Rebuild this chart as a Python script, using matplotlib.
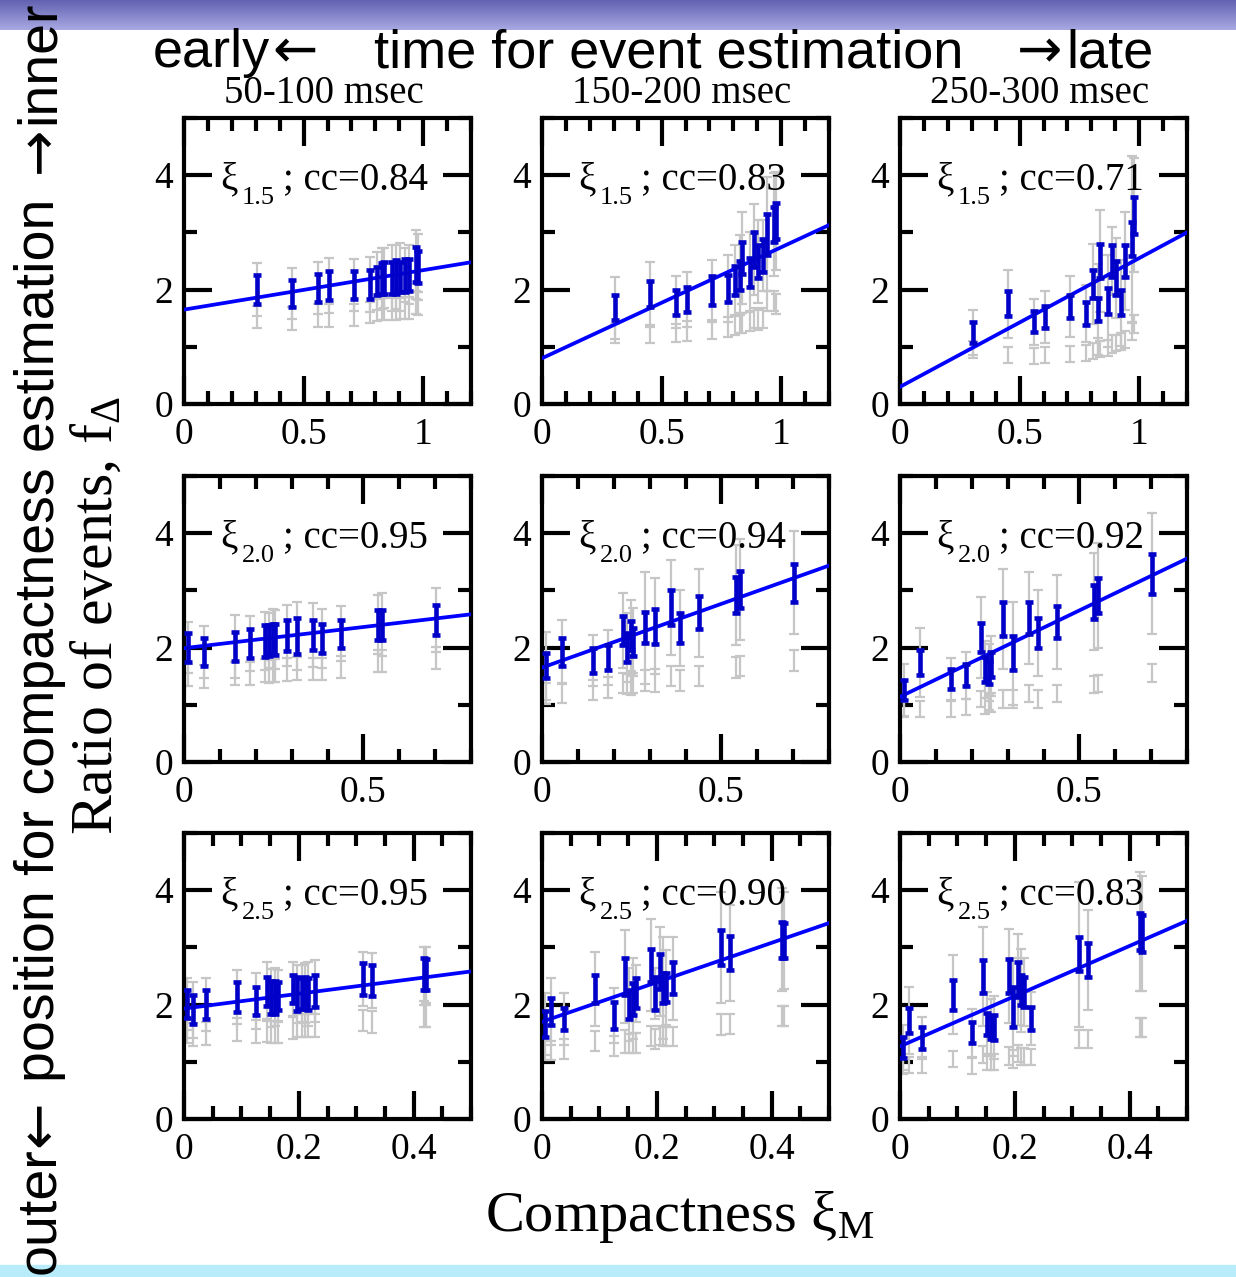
import numpy as np
import matplotlib
matplotlib.use("Agg")
import matplotlib.pyplot as plt
from matplotlib.ticker import MultipleLocator, FuncFormatter
from matplotlib.colors import LinearSegmentedColormap
from matplotlib.patches import Rectangle

plt.rcParams['font.family'] = ['Liberation Serif', 'DejaVu Serif']
plt.rcParams['mathtext.fontset'] = 'custom'
plt.rcParams['mathtext.rm'] = 'Liberation Serif'
plt.rcParams['mathtext.it'] = 'Liberation Serif:italic'
plt.rcParams['mathtext.bf'] = 'Liberation Serif:bold'

# compactness of the models (same within a row)
x_row1 = [0.305, 0.453, 0.562, 0.606, 0.709, 0.779, 0.809, 0.827, 0.836, 0.870, 0.886, 0.905, 0.925, 0.942, 0.968, 0.980]
x_row2 = [0.011, 0.057, 0.141, 0.184, 0.225, 0.237, 0.248, 0.254, 0.286, 0.315, 0.360, 0.384, 0.439, 0.541, 0.552, 0.702]
x_row3 = [0.006, 0.016, 0.039, 0.092, 0.125, 0.145, 0.151, 0.158, 0.163, 0.190, 0.196, 0.205, 0.210, 0.216, 0.228, 0.312, 0.328, 0.418, 0.422]

# xi_1.5 , 50-100 msec
p1_y = [2.00, 1.93, 2.03, 2.07, 2.08, 2.09, 2.15, 2.19, 2.20, 2.20, 2.22, 2.22, 2.25, 2.26, 2.44, 2.40]
p1_err = [0.25, 0.24, 0.25, 0.25, 0.25, 0.25, 0.25, 0.27, 0.28, 0.28, 0.30, 0.26, 0.29, 0.28, 0.30, 0.28]
p1_gerr = [0.47, 0.44, 0.45, 0.48, 0.46, 0.48, 0.51, 0.53, 0.52, 0.58, 0.56, 0.59, 0.47, 0.52, 0.60, 0.58]
p1_low = [1.52, 1.50, 1.55, 1.55, 1.56, 1.60, 1.64, 1.66, 1.66, 1.66, 1.66, 1.67, 1.68, 1.68, 1.78, 1.75]
p1_lowerr = [0.20, 0.20, 0.20, 0.20, 0.19, 0.19, 0.19, 0.19, 0.19, 0.19, 0.19, 0.19, 0.19, 0.19, 0.20, 0.20]

# xi_1.5 , 150-200 msec
p2_y = [1.68, 1.92, 1.78, 1.83, 1.98, 2.02, 2.16, 2.25, 2.55, 2.30, 2.70, 2.49, 2.60, 2.97, 3.14, 3.20]
p2_err = [0.22, 0.23, 0.22, 0.22, 0.25, 0.23, 0.25, 0.25, 0.28, 0.25, 0.30, 0.29, 0.29, 0.36, 0.30, 0.32]
p2_gerr = [0.54, 0.57, 0.45, 0.48, 0.54, 0.58, 0.62, 0.70, 0.80, 0.70, 0.80, 0.73, 0.62, 1.00, 0.90, 0.85]
p2_low = [1.23, 1.22, 1.24, 1.28, 1.30, 1.35, 1.38, 1.42, 1.42, 1.45, 1.50, 1.47, 1.50, 1.80, 1.80, 1.75]
p2_lowerr = [0.17, 0.16, 0.16, 0.17, 0.17, 0.17, 0.17, 0.17, 0.17, 0.17, 0.18, 0.17, 0.17, 0.18, 0.18, 0.18]

# xi_1.5 , 250-300 msec
p3_y = [1.25, 1.75, 1.44, 1.52, 1.70, 1.58, 2.10, 1.65, 2.50, 1.80, 2.50, 2.20, 1.77, 2.50, 2.88, 3.30]
p3_err = [0.19, 0.22, 0.18, 0.20, 0.20, 0.20, 0.25, 0.20, 0.30, 0.22, 0.28, 0.30, 0.22, 0.28, 0.30, 0.32]
p3_gerr = [0.40, 0.59, 0.40, 0.45, 0.53, 0.50, 0.70, 0.80, 0.90, 0.80, 0.60, 0.70, 0.75, 0.85, 1.45, 1.00]
p3_low = [0.95, 0.86, 0.84, 0.85, 0.88, 0.90, 0.92, 1.00, 0.97, 0.98, 1.05, 1.06, 1.10, 1.13, 1.27, 1.40]
p3_lowerr = [0.15, 0.14, 0.14, 0.14, 0.14, 0.14, 0.14, 0.15, 0.14, 0.14, 0.15, 0.14, 0.15, 0.15, 0.15, 0.16]

# xi_2.0 , 50-100 msec
p4_y = [2.00, 1.92, 2.02, 2.07, 2.12, 2.12, 2.15, 2.14, 2.21, 2.20, 2.22, 2.16, 2.24, 2.40, 2.40, 2.48]
p4_err = [0.25, 0.24, 0.25, 0.25, 0.28, 0.27, 0.26, 0.27, 0.27, 0.32, 0.26, 0.25, 0.25, 0.26, 0.26, 0.26]
p4_gerr = [0.45, 0.46, 0.55, 0.48, 0.51, 0.48, 0.53, 0.51, 0.53, 0.60, 0.56, 0.52, 0.48, 0.52, 0.55, 0.56]
p4_low = [1.52, 1.50, 1.55, 1.54, 1.60, 1.58, 1.60, 1.60, 1.62, 1.64, 1.63, 1.63, 1.66, 1.76, 1.76, 1.82]
p4_lowerr = [0.20, 0.20, 0.20, 0.20, 0.20, 0.20, 0.20, 0.20, 0.20, 0.20, 0.19, 0.19, 0.19, 0.19, 0.19, 0.19]

# xi_2.0 , 150-200 msec
p5_y = [1.68, 1.92, 1.77, 1.83, 2.30, 2.00, 2.21, 2.10, 2.35, 2.37, 2.70, 2.34, 2.61, 2.92, 3.02, 3.13]
p5_err = [0.22, 0.25, 0.22, 0.22, 0.26, 0.25, 0.25, 0.25, 0.27, 0.30, 0.30, 0.26, 0.29, 0.32, 0.32, 0.33]
p5_gerr = [0.60, 0.56, 0.45, 0.48, 0.65, 0.60, 0.62, 0.60, 0.98, 0.84, 0.83, 0.66, 0.77, 0.87, 0.88, 0.90]
p5_low = [1.20, 1.21, 1.26, 1.30, 1.38, 1.36, 1.36, 1.38, 1.42, 1.42, 1.50, 1.42, 1.50, 1.65, 1.68, 1.77]
p5_lowerr = [0.18, 0.17, 0.17, 0.18, 0.17, 0.17, 0.18, 0.18, 0.18, 0.2, 0.18, 0.18, 0.18, 0.18, 0.18, 0.18]

# xi_2.0 , 250-300 msec
p6_y = [1.26, 1.74, 1.45, 1.52, 2.18, 1.62, 1.56, 1.70, 2.50, 1.90, 2.52, 2.26, 2.45, 2.80, 2.91, 3.29]
p6_err = [0.18, 0.22, 0.18, 0.20, 0.25, 0.22, 0.20, 0.22, 0.30, 0.30, 0.28, 0.26, 0.28, 0.30, 0.30, 0.35]
p6_gerr = [0.45, 0.60, 0.36, 0.41, 0.71, 0.50, 0.50, 0.50, 0.88, 0.90, 0.81, 0.75, 0.82, 0.85, 0.91, 1.06]
p6_low = [0.94, 0.93, 0.93, 0.96, 1.10, 0.98, 1.05, 1.02, 1.10, 1.10, 1.20, 1.10, 1.20, 1.35, 1.37, 1.55]
p6_lowerr = [0.15, 0.14, 0.14, 0.14, 0.14, 0.14, 0.14, 0.14, 0.16, 0.15, 0.15, 0.15, 0.15, 0.15, 0.15, 0.16]

# xi_2.5 , 50-100 msec
p7_y = [2.01, 1.91, 2.00, 2.13, 2.06, 2.23, 2.12, 2.13, 2.15, 2.27, 2.18, 2.20, 2.20, 2.19, 2.24, 2.45, 2.42, 2.54, 2.52]
p7_err = [0.25, 0.25, 0.25, 0.26, 0.25, 0.26, 0.29, 0.29, 0.25, 0.25, 0.30, 0.27, 0.28, 0.28, 0.28, 0.28, 0.27, 0.28, 0.27]
p7_gerr = [0.45, 0.49, 0.47, 0.47, 0.49, 0.52, 0.51, 0.51, 0.45, 0.48, 0.51, 0.50, 0.52, 0.56, 0.54, 0.47, 0.48, 0.47, 0.49]
p7_low = [1.53, 1.47, 1.50, 1.56, 1.53, 1.54, 1.52, 1.52, 1.52, 1.60, 1.63, 1.63, 1.63, 1.63, 1.63, 1.72, 1.70, 1.80, 1.80]
p7_lowerr = [0.20, 0.20, 0.20, 0.20, 0.20, 0.20, 0.20, 0.20, 0.20, 0.20, 0.20, 0.20, 0.20, 0.20, 0.20, 0.19, 0.19, 0.19, 0.19]

# xi_2.5 , 150-200 msec
p8_y = [1.66, 1.88, 1.75, 2.27, 1.81, 2.49, 2.00, 2.10, 2.20, 2.69, 2.19, 2.58, 2.29, 2.30, 2.46, 3.00, 2.90, 3.13, 3.12]
p8_err = [0.22, 0.24, 0.19, 0.25, 0.23, 0.33, 0.26, 0.28, 0.26, 0.29, 0.29, 0.30, 0.26, 0.26, 0.28, 0.31, 0.30, 0.32, 0.30]
p8_gerr = [0.54, 0.58, 0.45, 0.65, 0.48, 0.81, 0.64, 0.71, 0.50, 0.81, 0.45, 0.78, 0.90, 0.65, 0.73, 0.97, 0.84, 0.90, 0.85]
p8_low = [1.20, 1.20, 1.22, 1.36, 1.28, 1.35, 1.32, 1.33, 1.33, 1.45, 1.40, 1.46, 1.44, 1.44, 1.44, 1.65, 1.66, 1.80, 1.80]
p8_lowerr = [0.17, 0.17, 0.17, 0.17, 0.17, 0.2, 0.17, 0.17, 0.17, 0.18, 0.18, 0.17, 0.17, 0.17, 0.17, 0.18, 0.17, 0.18, 0.18]

# xi_2.5 , 250-300 msec
p9_y = [1.25, 1.72, 1.42, 2.17, 1.51, 2.49, 1.66, 1.60, 1.60, 2.50, 1.96, 2.44, 2.25, 2.22, 1.76, 2.88, 2.78, 3.28, 3.24]
p9_err = [0.19, 0.22, 0.19, 0.26, 0.19, 0.29, 0.20, 0.20, 0.22, 0.29, 0.35, 0.30, 0.26, 0.26, 0.20, 0.30, 0.30, 0.33, 0.32]
p9_gerr = [0.40, 0.58, 0.37, 0.69, 0.42, 0.87, 0.56, 0.50, 0.55, 0.82, 0.85, 0.80, 0.73, 0.60, 0.46, 1.27, 0.87, 1.04, 1.00]
p9_low = [0.93, 0.94, 0.94, 1.05, 0.93, 1.13, 0.99, 0.99, 0.99, 1.10, 1.05, 1.15, 1.10, 1.10, 1.08, 1.40, 1.40, 1.60, 1.60]
p9_lowerr = [0.14, 0.14, 0.14, 0.14, 0.14, 0.15, 0.14, 0.14, 0.14, 0.16, 0.15, 0.15, 0.15, 0.15, 0.14, 0.15, 0.15, 0.16, 0.16]

# linear fits (intercept, slope) and correlation coefficients
fit_a = [1.65, 0.80, 0.30, 1.99, 1.65, 1.14, 1.93, 1.70, 1.27]
fit_b = [0.69, 1.94, 2.25, 0.74, 2.23, 3.02, 1.30, 3.45, 4.39]
cc_text = ["0.84", "0.83", "0.71", "0.95", "0.94", "0.92", "0.95", "0.90", "0.83"]
xi_names = ["1.5", "2.0", "2.5"]
col_titles = ["50-100 msec", "150-200 msec", "250-300 msec"]

rows_x = [x_row1, x_row2, x_row3]
x_max = [1.2, 0.8, 0.5]
x_major = [0.5, 0.5, 0.2]
x_minor = [0.1, 0.1, 0.05]
panel_y = [p1_y, p2_y, p3_y, p4_y, p5_y, p6_y, p7_y, p8_y, p9_y]
panel_err = [p1_err, p2_err, p3_err, p4_err, p5_err, p6_err, p7_err, p8_err, p9_err]
panel_gerr = [p1_gerr, p2_gerr, p3_gerr, p4_gerr, p5_gerr, p6_gerr, p7_gerr, p8_gerr, p9_gerr]
panel_low = [p1_low, p2_low, p3_low, p4_low, p5_low, p6_low, p7_low, p8_low, p9_low]
panel_lowerr = [p1_lowerr, p2_lowerr, p3_lowerr, p4_lowerr, p5_lowerr, p6_lowerr, p7_lowerr, p8_lowerr, p9_lowerr]

W, H = 1236, 1277
fig = plt.figure(figsize=(W / 100, H / 100), dpi=100)

# coloured bands at top and bottom
band = fig.add_axes([0, 1 - 30 / H, 1, 30 / H])
band.imshow(np.linspace(0, 1, 50).reshape(-1, 1), aspect='auto',
            cmap=LinearSegmentedColormap.from_list('band', ['#6262b2', '#a8a8e2']))
band.axis('off')
fig.add_artist(Rectangle((0, 0), 1, 12 / H, transform=fig.transFigure,
                         color='#b9ecfb', zorder=0))

lefts = [184, 542, 900]
tops = [118, 476, 833]
aw, ah = 287, 286

fmt = FuncFormatter(lambda v, p: '%g' % v)

for r in range(3):
    for c in range(3):
        k = 3 * r + c
        ax = fig.add_axes([lefts[c] / W, 1 - (tops[r] + ah) / H, aw / W, ah / H])
        x = rows_x[r]
        ax.errorbar(x, panel_low[k], yerr=panel_lowerr[k], fmt='none', ecolor='#c6c6c6',
                    elinewidth=1.6, capsize=3.5, capthick=1.6, zorder=2)
        ax.errorbar(x, panel_y[k], yerr=panel_gerr[k], fmt='none', ecolor='#c6c6c6',
                    elinewidth=1.6, capsize=3.5, capthick=1.6, zorder=2)
        xx = np.array([0, x_max[r]])
        ax.plot(xx, fit_a[k] + fit_b[k] * xx, color='#0000ff', lw=2.7, zorder=3)
        ax.errorbar(x, panel_y[k], yerr=panel_err[k], fmt='none', ecolor='#0000c8',
                    elinewidth=3.3, capsize=3.2, capthick=3.3, zorder=4)
        ax.set_xlim(0, x_max[r])
        ax.set_ylim(0, 5)
        ax.xaxis.set_major_locator(MultipleLocator(x_major[r]))
        ax.xaxis.set_minor_locator(MultipleLocator(x_minor[r]))
        ax.yaxis.set_major_locator(MultipleLocator(2))
        ax.yaxis.set_minor_locator(MultipleLocator(1))
        ax.xaxis.set_major_formatter(fmt)
        ax.yaxis.set_major_formatter(fmt)
        ax.tick_params(which='both', direction='in', top=True, right=True, labelsize=27)
        ax.tick_params(axis='x', pad=10)
        ax.tick_params(axis='y', pad=8)
        ax.tick_params(which='major', length=20, width=3)
        ax.tick_params(which='minor', length=9.5, width=3)
        for s in ax.spines.values():
            s.set_linewidth(3)
        # xi symbol, its subscript and the correlation coefficient
        tr = ax.get_yaxis_transform()
        ax.annotate('\u03be', (0.125, 3.76), xycoords=tr, fontsize=28,
                    va='baseline', ha='left', zorder=5)
        ax.annotate(xi_names[r], (0.125, 3.76), xycoords=tr, xytext=(15.5, -10.5),
                    textcoords='offset points', fontsize=19, va='baseline', ha='left', zorder=5)
        ax.annotate('; cc=' + cc_text[k], (0.125, 3.76), xycoords=tr, xytext=(45.5, 0),
                    textcoords='offset points', fontsize=28, va='baseline', ha='left', zorder=5)

for c in range(3):
    fig.text((lefts[c] + aw / 2 - 4) / W, 1 - 103 / H, col_titles[c], fontsize=28,
             ha='center', va='baseline')

# title built from pieces so the arrows come out full size
sans = ['Liberation Sans', 'DejaVu Sans']
ty = 1 - 67 / H
fig.text(270 / W, ty, 'early', family=sans, fontsize=39, ha='right', va='baseline')
fig.text(295 / W, ty, '\u2190', family='DejaVu Sans', fontsize=39, ha='center', va='baseline')
fig.text(669 / W, ty, 'time for event estimation', family=sans, fontsize=39,
         ha='center', va='baseline')
fig.text(1040 / W, ty, '\u2192', family='DejaVu Sans', fontsize=39, ha='center', va='baseline')
fig.text(1066 / W, ty, 'late', family=sans, fontsize=39, ha='left', va='baseline')

# vertical annotation on the left edge
vx = 40 / W
fig.text(vx, 1 - 1274 / H, 'outer', family=sans, fontsize=40, rotation=90,
         ha='center', va='bottom', zorder=6)
fig.text(vx, 1 - 1124 / H, '\u2190', family='DejaVu Sans', fontsize=40, rotation=90,
         ha='center', va='center', zorder=6)
fig.text(vx, 1 - 640 / H, 'position for compactness estimation', family=sans, fontsize=40,
         rotation=90, ha='center', va='center', zorder=6)
fig.text(vx, 1 - 150 / H, '\u2192', family='DejaVu Sans', fontsize=40, rotation=90,
         ha='center', va='center', zorder=6)
fig.text(vx, 1 - 1 / H, 'inner', family=sans, fontsize=40, rotation=90,
         ha='center', va='top', zorder=6)

fig.text(97 / W, 1 - 835 / H, r'Ratio of events, f$_{\mathrm{\Delta}}$', fontsize=43,
         rotation=90, ha='center', va='bottom')

fig.text(485 / W, 1 - 1231 / H, r'Compactness $\mathrm{\xi}_{\mathrm{M}}$', fontsize=42,
         ha='left', va='baseline')

fig.savefig('out.png', dpi=100)
